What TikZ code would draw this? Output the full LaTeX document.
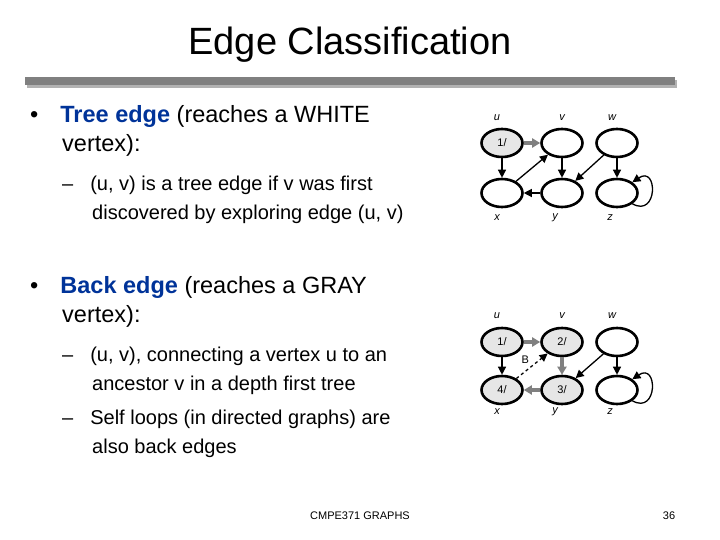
\documentclass[tikz,border=0pt]{standalone}
\usepackage{fontspec}
\setmainfont{Liberation Sans}
\usetikzlibrary{shapes.geometric,arrows.meta}
\definecolor{tblue}{RGB}{0,51,153}
\definecolor{vgray}{RGB}{230,230,230}
\begin{document}
\begin{tikzpicture}[x=1pt,y=-1pt,
  vtx/.style={ellipse,draw,line width=2.6pt,minimum width=41pt,minimum height=28pt,inner sep=0pt,font=\fontsize{11}{12}\selectfont},
  gv/.style={vtx,fill=vgray},
  lbl/.style={font=\itshape\fontsize{11}{12}\selectfont},
  e/.style={-{Triangle[length=8pt,width=8pt]},line width=1.3pt},
  te/.style={-{Triangle[length=8pt,width=9pt]},line width=3.5pt,draw=gray},
  be/.style={e,dashed},
  big/.style={anchor=north west,align=left,inner sep=0pt,font=\fontsize{23.5}{29}\selectfont},
  sm/.style={anchor=north west,align=left,inner sep=0pt,font=\fontsize{20}{29}\selectfont}]
\useasboundingbox (0,0) rectangle (720,540);
\node (title) at (350,45) {\fontsize{38}{42}\selectfont Edge Classification};
\fill[gray!60] (27,80) rectangle (677,88);
\fill[gray] (25,77) rectangle (675,85);
\node[big] (b1) at (30,105) {•\hspace{22pt}\textcolor{tblue}{\textbf{Tree edge}} (reaches a WHITE\\\hspace{32pt}vertex):};
\node[sm] (s1) at (62,176) {–\hspace{17pt}(u, v) is a tree edge if v was first\\\hspace{30pt}discovered by exploring edge (u, v)};
\node[big] (b2) at (30,276) {•\hspace{22pt}\textcolor{tblue}{\textbf{Back edge}} (reaches a GRAY\\\hspace{32pt}vertex):};
\node[sm] (s2) at (62,347) {–\hspace{17pt}(u, v), connecting a vertex u to an\\\hspace{30pt}ancestor v in a depth first tree};
\node[sm] (s3) at (62,410) {–\hspace{17pt}Self loops (in directed graphs) are\\\hspace{30pt}also back edges};
\node (foot) at (360,516) {\fontsize{11}{12}\selectfont CMPE371 GRAPHS};
\node (pg) at (669,516) {\fontsize{11}{12}\selectfont 36};
% top graph
\node[gv] (u1) at (502,143) {1/};
\node[vtx] (v1) at (562,143) {};
\node[vtx] (w1) at (617,143) {};
\node[vtx] (x1) at (502,193) {};
\node[vtx] (y1) at (562,193) {};
\node[vtx] (z1) at (617,193) {};
\node[lbl] (lu1) at (497,118) {u};
\node[lbl] (lv1) at (562,118) {v};
\node[lbl] (lw1) at (612,118) {w};
\node[lbl] (lx1) at (497,218) {x};
\node[lbl] (ly1) at (555,218) {y};
\node[lbl] (lz1) at (610,218) {z};
\draw[te] (u1) -- (v1);
\draw[e] (u1) -- (x1);
\draw[e] (x1) -- (v1);
\draw[e] (v1) -- (y1);
\draw[e] (w1) -- (y1);
\draw[e] (w1) -- (z1);
\draw[e] (y1) -- (x1);
\draw[e] (z1.south east) .. controls (658,218) and (658,165) .. (z1.north east);
% bottom graph
\node[gv] (u2) at (502,342) {1/};
\node[gv] (v2) at (562,342) {2/};
\node[vtx] (w2) at (617,342) {};
\node[gv] (x2) at (502,390) {4/};
\node[gv] (y2) at (562,390) {3/};
\node[vtx] (z2) at (617,390) {};
\node[lbl] (lu2) at (497,316) {u};
\node[lbl] (lv2) at (562,316) {v};
\node[lbl] (lw2) at (612,316) {w};
\node[lbl] (lx2) at (497,412) {x};
\node[lbl] (ly2) at (555,412) {y};
\node[lbl] (lz2) at (610,412) {z};
\draw[te] (u2) -- (v2);
\draw[te] (v2) -- (y2);
\draw[te] (y2) -- (x2);
\draw[e] (u2) -- (x2);
\draw[be] (x2) -- node[pos=0.5,above left=-1pt,font=\fontsize{11}{12}\selectfont]{B} (v2);
\draw[e] (w2) -- (y2);
\draw[e] (w2) -- (z2);
\draw[e] (z2.south east) .. controls (658,415) and (658,362) .. (z2.north east);
\end{tikzpicture}
\end{document}
